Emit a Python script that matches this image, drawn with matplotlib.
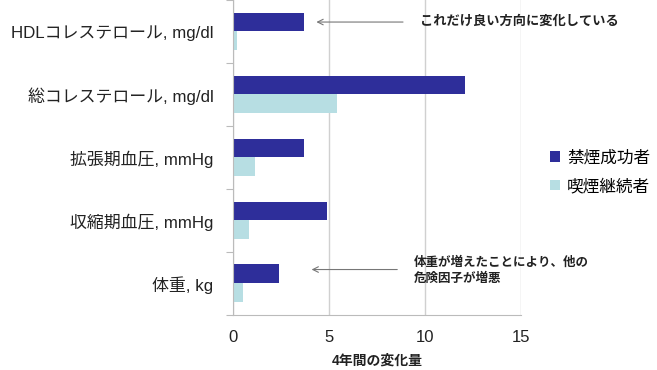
import numpy as np
import matplotlib.pyplot as plt

plt.rcParams['font.family'] = ['Liberation Sans', 'Noto Sans CJK JP']

# 項目（上から順）と4年間の変化量
categories = ['HDLコレステロール, mg/dl', '総コレステロール, mg/dl',
              '拡張期血圧, mmHg', '収縮期血圧, mmHg', '体重, kg']
quitters = [3.7, 12.1, 3.7, 4.9, 2.4]
smokers = [0.2, 5.4, 1.15, 0.85, 0.5]
series_names = ['禁煙成功者', '喫煙継続者']
xticks = [0, 5, 10, 15]

dark = '#2E2E9A'
light = '#B7DEE3'

fig = plt.figure(figsize=(6.57, 3.7), dpi=100)
ax = fig.add_axes([0.3546, 0.149, 0.4384, 0.851])

n = len(categories)
y = np.arange(n)
h = 0.3
b1 = ax.barh(y - h / 2, quitters, height=h, color=dark, label=series_names[0])
b2 = ax.barh(y + h / 2, smokers, height=h, color=light, label=series_names[1])

ax.set_ylim(n - 0.5, -0.5)
ax.set_xlim(0, 15)
ax.set_xticks(xticks)
ax.set_xticklabels([str(t) for t in xticks], fontsize=12, color='#222222')
ax.tick_params(axis='x', length=0, pad=11)

# カテゴリ境界の目盛り、ラベルは中央
ax.set_yticks(np.arange(n + 1) - 0.5)
ax.set_yticklabels([])
ax.set_yticks(y, minor=True)
ax.set_yticklabels(categories, minor=True, fontsize=12.2, color='#222222')
ax.tick_params(axis='y', which='major', length=5, color='#BBBBBB', direction='out')
ax.tick_params(axis='y', which='minor', length=0, pad=14)

ax.grid(axis='x', color='#D0D0D0', linewidth=1)
ax.set_axisbelow(True)
for s in ['top', 'right']:
    ax.spines[s].set_visible(False)
for s in ['left', 'bottom']:
    ax.spines[s].set_color('#BBBBBB')

ax.set_xlabel('4年間の変化量', fontsize=10, fontweight='bold', color='#222222', labelpad=6)

# 注釈
ax.annotate('', xy=(4.2, -0.15), xytext=(9.0, -0.15),
            arrowprops=dict(arrowstyle='->', color='#777777', lw=0.8))
ax.text(9.75, -0.15, 'これだけ良い方向に変化している', fontsize=9.5, fontweight='bold',
        va='center', ha='left', color='#222222')
ax.annotate('', xy=(3.95, 3.78), xytext=(8.7, 3.78),
            arrowprops=dict(arrowstyle='->', color='#777777', lw=0.8))
ax.text(9.4, 3.8, '体重が増えたことにより、他の\n危険因子が増悪', fontsize=9,
        fontweight='bold', va='center', ha='left', color='#222222', linespacing=1.35)

fig.legend(handles=[b1, b2], labels=series_names, loc='center left',
           bbox_to_anchor=(0.815, 0.535), frameon=False, fontsize=12,
           handlelength=0.6, handleheight=0.6, handletextpad=0.4, labelspacing=0.75)

fig.savefig('out.png', dpi=100)
